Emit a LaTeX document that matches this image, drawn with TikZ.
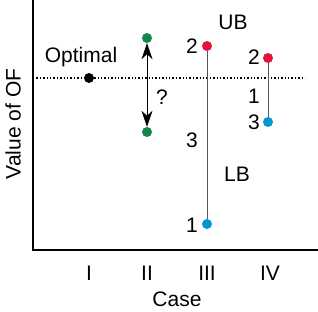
\documentclass[tikz,border=0pt]{standalone}
\usepackage{fontspec}
\setmainfont{Liberation Sans}
\usepackage{xcolor}
\usetikzlibrary{arrows.meta}

\definecolor{ubred}{HTML}{E2123C}
\definecolor{lbblue}{HTML}{0096D6}
\definecolor{guessgreen}{HTML}{13874A}
\definecolor{barline}{HTML}{555555}

\tikzset{
  dot/.style={circle, inner sep=0pt, minimum size=10pt},
  lbl/.style={font=\fontsize{21}{21}\selectfont, inner sep=0pt},
  numlbl/.style={lbl, anchor=east},
  bigtip/.tip={Stealth[length=16pt,width=11pt,inset=5pt]},
}

\begin{document}
\begin{tikzpicture}[x=1pt, y=-1pt]
        \useasboundingbox (0,0) rectangle (318,311);

        % Axes
        \coordinate (ytop) at (33,0);
        \coordinate (origin) at (33,250);
        \coordinate (xend) at (318,250);
        \draw[line width=1.6pt] (ytop) -- (origin) -- (xend);
        \node[lbl, rotate=90] (ylab) at (13,124) {Value of OF};
        \node[lbl] (xlab) at (177,299) {Case};

        % Case labels
        \node[lbl] (c1) at (89,273) {I};
        \node[lbl] (c2) at (147,273) {II};
        \node[lbl] (c3) at (207,273) {III};
        \node[lbl] (c4) at (270,273) {IV};

        % Optimal value
        \coordinate (optl) at (33,78);
        \coordinate (optr) at (305,78);
        \draw[line width=1.4pt, dotted] (optl) -- (optr);
        \node[dot, fill=black] (opt) at (89,78) {};
        \node[lbl] (optlab) at (81,57) {Optimal};

        % Case II
        \node[dot, fill=guessgreen] (g2top) at (147,38) {};
        \node[dot, fill=guessgreen] (g2bot) at (147,132) {};
        \draw[bigtip-bigtip, line width=0.8pt] (g2top) -- (g2bot);
        \node[lbl] (qmark) at (162,97) {?};

        % Case III
        \node[dot, fill=ubred] (r3) at (207,46) {};
        \node[dot, fill=lbblue] (b3) at (207,224) {};
        \draw[barline, line width=0.9pt] (r3) -- (b3);
        \node[numlbl] (n3a) at (198,46) {2};
        \node[numlbl] (n3b) at (198,140) {3};
        \node[numlbl] (n3c) at (198,225) {1};
        \node[lbl] (ub) at (233,22) {UB};
        \node[lbl] (lb) at (237,174) {LB};

        % Case IV
        \node[dot, fill=ubred] (r4) at (268,58) {};
        \node[dot, fill=lbblue] (b4) at (268,122) {};
        \draw[barline, line width=0.9pt] (r4) -- (b4);
        \node[numlbl] (n4a) at (260,57) {2};
        \node[numlbl] (n4b) at (260,96) {1};
        \node[numlbl] (n4c) at (260,122) {3};
      \end{tikzpicture}
\end{document}
